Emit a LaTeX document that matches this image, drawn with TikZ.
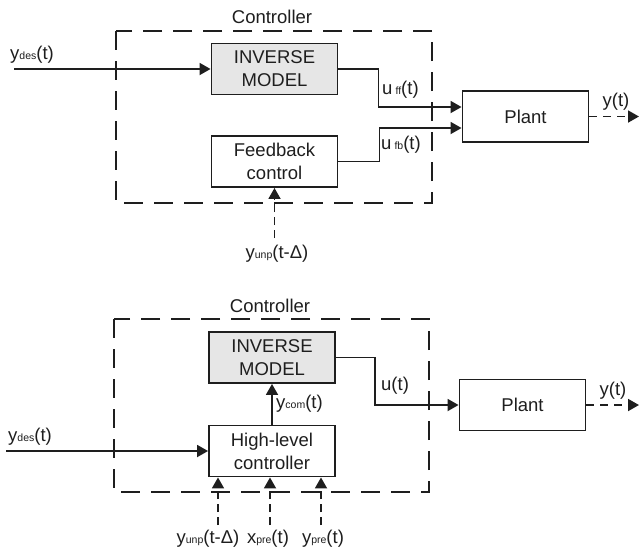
\documentclass[tikz,border=0pt]{standalone}
\usepackage{fontspec}
\setmainfont{Liberation Sans}
\usetikzlibrary{arrows.meta}
\newcommand{\lowtxt}[1]{{\fontsize{10.5}{12}\selectfont #1}}
\newcommand{\mainsz}{\fontsize{18.5}{23}\selectfont}
\definecolor{boxgray}{HTML}{E6E6E6}
\definecolor{ink}{HTML}{1E1E1E}
\begin{document}
\begin{tikzpicture}[x=1pt,y=-1pt,
  blk/.style={draw=ink, line width=1.9pt, minimum width=126pt, minimum height=51pt, inner sep=0pt, align=center, font=\mainsz, text=ink},
  lbl/.style={inner sep=0pt, font=\mainsz, text=ink},
  ctrl/.style={draw=ink, line width=1.9pt, dash pattern=on 19pt off 11pt},
  sig/.style={draw=ink, line width=1.8pt, -{Triangle[length=11pt,width=12pt]}},
  dsig/.style={sig, dash pattern=on 8pt off 5pt},
  osig/.style={sig, dash pattern=on 8pt off 6pt}]
\useasboundingbox (0,0) rectangle (640,550);
% ---------- top diagram ----------
\draw[ctrl] (116,31) rectangle (432,203);
\node[lbl] (c1) at (272,17) {Controller};
\node[blk, fill=boxgray] (inv1) at (274.5,69) {INVERSE\\MODEL};
\node[blk] (fb1) at (274.5,161.5) {Feedback\\control};
\node[blk] (pl1) at (525.5,116.5) {Plant};
\coordinate (yin1) at (14,69);
\draw[sig] (yin1) -- (inv1.west);
\node[lbl, anchor=west] (yd1) at (10,55) {y\lowtxt{des}(t)};
\draw[sig] (inv1.east) -- ++(40,0) |- ([yshift=9.5pt]pl1.west);
\node[lbl, anchor=west] (uff) at (382,90) {u\,\lowtxt{ff}(t)};
\draw[sig] (fb1.east) -- ++(41,0) |- ([yshift=-11.5pt]pl1.west);
\node[lbl, anchor=west] (ufb) at (381,145) {u\,\lowtxt{fb}(t)};
\coordinate (yu1) at (274.5,238);
\draw[dsig] (yu1) -- (fb1.south);
\node[lbl] (yul1) at (277,254) {y\lowtxt{unp}(t-Δ)};
\coordinate (yo1) at (639,116.5);
\draw[osig] (pl1.east) -- (yo1);
\node[lbl] (yt1) at (616,102) {y(t)};
% ---------- bottom diagram ----------
\draw[ctrl] (114,319) rectangle (429,492);
\node[lbl] (c2) at (270,306) {Controller};
\node[blk, fill=boxgray] (inv2) at (272,357.5) {INVERSE\\MODEL};
\node[blk] (hl2) at (272,451) {High-level\\controller};
\node[blk] (pl2) at (522.5,405) {Plant};
\coordinate (yin2) at (6,451);
\draw[sig] (yin2) -- (hl2.west);
\node[lbl, anchor=west] (yd2) at (8,437) {y\lowtxt{des}(t)};
\draw[sig] (hl2.north) -- (inv2.south);
\node[lbl, anchor=west] (ycom) at (276,404) {y\lowtxt{com}(t)};
\draw[sig] (inv2.east) -- ++(39,0) |- (pl2.west);
\node[lbl, anchor=west] (ut) at (381,386) {u(t)};
\coordinate (yo2) at (639,405);
\draw[osig] (pl2.east) -- (yo2);
\node[lbl] (yt2) at (613,391) {y(t)};
\coordinate (a1) at (218,525);
\coordinate (a2) at (270,525);
\coordinate (a3) at (321,525);
\draw[dsig] (a1) -- (a1 |- hl2.south);
\draw[dsig] (a2) -- (a2 |- hl2.south);
\draw[dsig] (a3) -- (a3 |- hl2.south);
\node[lbl] (l1) at (208,539) {y\lowtxt{unp}(t-Δ)};
\node[lbl] (l2) at (268,539) {x\lowtxt{pre}(t)};
\node[lbl] (l3) at (323,539) {y\lowtxt{pre}(t)};
\end{tikzpicture}
\end{document}
